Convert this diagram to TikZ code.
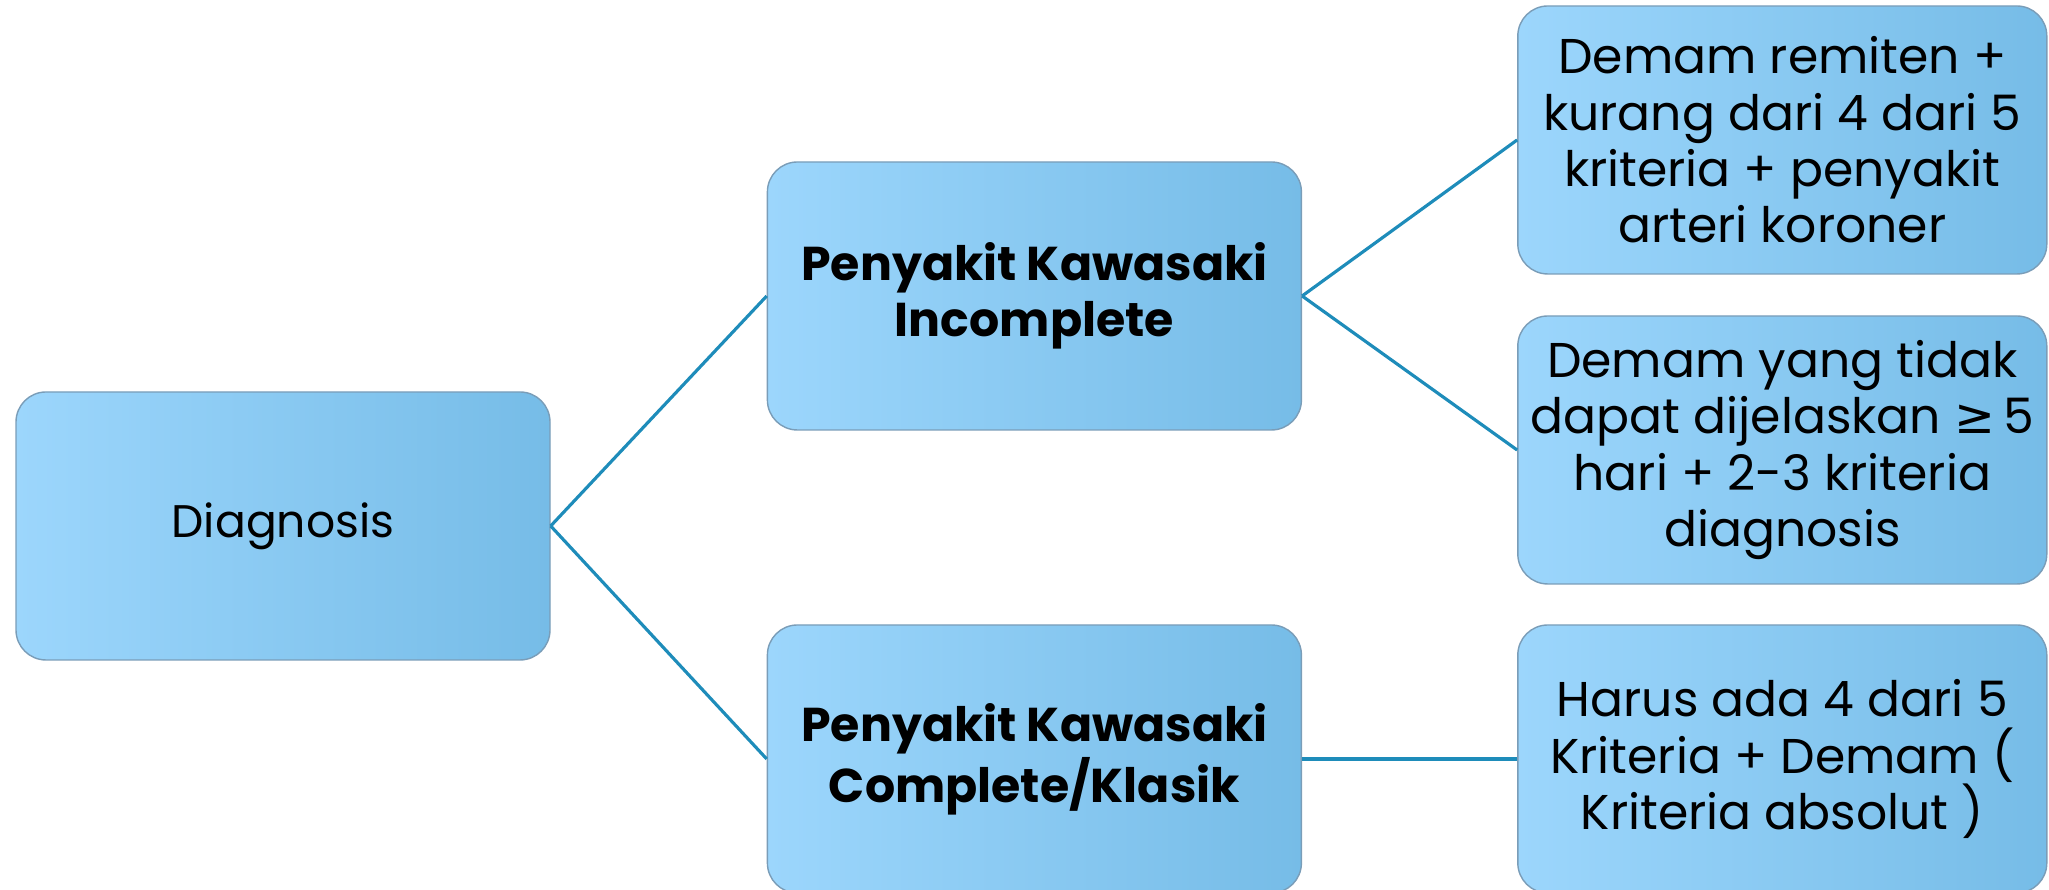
\documentclass[tikz,border=0pt]{standalone}
\usepackage{fontspec}
\setmainfont{Poppins}
\newfontfamily\symfont{DejaVu Sans}
\usetikzlibrary{positioning}

\definecolor{boxleft}{HTML}{9CD6FC}
\definecolor{boxright}{HTML}{76BCE7}
\definecolor{boxline}{HTML}{7A9DB8}
\definecolor{linkcolor}{HTML}{1E8CBA}

\begin{document}
\begin{tikzpicture}[
    box/.style={rectangle, rounded corners=0.3cm, draw=boxline, line width=0.4pt,
        left color=boxleft, right color=boxright,
        minimum width=5.34cm, minimum height=2.68cm, inner sep=0pt,
        align=center, font=\fontsize{13}{16}\selectfont},
    headbox/.style={box, font=\fontsize{13.5}{16}\selectfont\bfseries},
    leafbox/.style={box, minimum width=5.29cm, font=\fontsize{13.9}{16}\selectfont},
    link/.style={draw=linkcolor, line width=0.9pt} ]
    \useasboundingbox (0,0) rectangle (20.49,8.9);

    \node[box] (diagnosis) at (2.83,3.64) {Diagnosis};
    \node[headbox, right=2.16cm of diagnosis, yshift=2.30cm] (incomplete)
        {Penyakit Kawasaki\\Incomplete};
    \node[headbox, right=2.16cm of diagnosis, yshift=-2.33cm] (complete)
        {Penyakit Kawasaki\\Complete/Klasik};

    \node[leafbox, right=2.15cm of incomplete, yshift=1.56cm] (remiten)
        {Demam remiten +\\kurang dari 4 dari 5\\kriteria + penyakit\\arteri koroner};
    \node[leafbox, right=2.15cm of incomplete, yshift=-1.54cm] (tidak)
        {Demam yang tidak\\dapat dijelaskan {\symfont ≥}\,5\\hari + 2-3 kriteria\\diagnosis};
    \node[leafbox, right=2.15cm of complete] (harus)
        {Harus ada 4 dari 5\\Kriteria + Demam (\\Kriteria absolut )};

    \draw[link] (diagnosis.east) -- (incomplete.west);
    \draw[link] (diagnosis.east) -- (complete.west);
    \draw[link] (incomplete.east) -- (remiten.west);
    \draw[link] (incomplete.east) -- (tidak.west);
    \draw[link] (complete.east) -- (harus.west);

\end{tikzpicture}
\end{document}
